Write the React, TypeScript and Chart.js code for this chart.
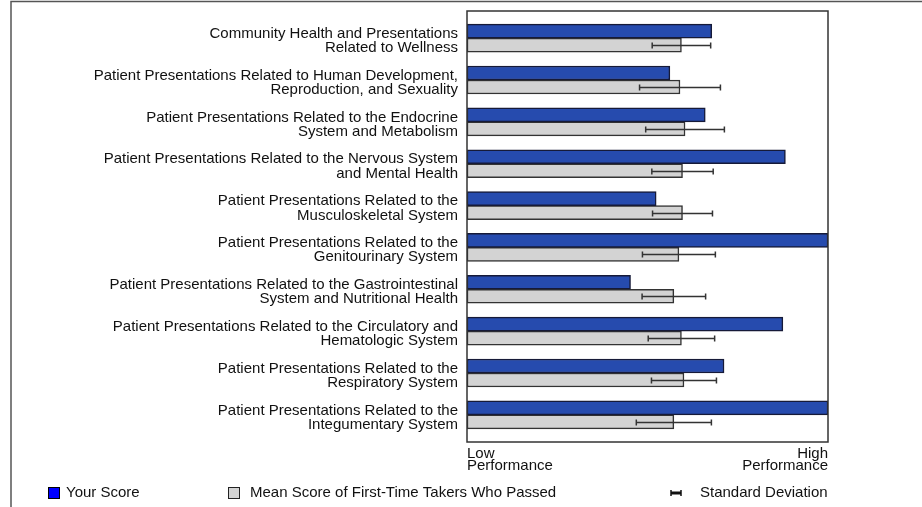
import React, { useEffect, useRef } from 'react';
import { Chart, registerables } from 'chart.js';

Chart.register(...registerables);

const categories: string[][] = [
  ['Community Health and Presentations', 'Related to Wellness'],
  ['Patient Presentations Related to Human Development,', 'Reproduction, and Sexuality'],
  ['Patient Presentations Related to the Endocrine', 'System and Metabolism'],
  ['Patient Presentations Related to the Nervous System', 'and Mental Health'],
  ['Patient Presentations Related to the', 'Musculoskeletal System'],
  ['Patient Presentations Related to the', 'Genitourinary System'],
  ['Patient Presentations Related to the Gastrointestinal', 'System and Nutritional Health'],
  ['Patient Presentations Related to the Circulatory and', 'Hematologic System'],
  ['Patient Presentations Related to the', 'Respiratory System'],
  ['Patient Presentations Related to the', 'Integumentary System'],
];

const yourScore = [67.8, 56.2, 66.0, 88.2, 52.4, 100, 45.3, 87.5, 71.2, 100];
const meanScore = [59.4, 59.0, 60.4, 59.7, 59.7, 58.7, 57.3, 59.4, 60.1, 57.3];
const stdDev = [8.1, 11.2, 10.9, 8.5, 8.3, 10.1, 8.8, 9.2, 9.0, 10.4];

const xTickLabels: string[][] = [
  ['Low', 'Performance'],
  ['High', 'Performance'],
];

const legendLabels = ['Your Score', 'Mean Score of First-Time Takers Who Passed', 'Standard Deviation'];

const FONT = "'Liberation Sans', Arial, Helvetica, sans-serif";
const LABEL_SHIFT = 0.065;

export default function App() {
  const ref = useRef<HTMLCanvasElement>(null);

  useEffect(() => {
    const canvas = ref.current;
    if (!canvas) return;

    const overlay = {
      id: 'overlay',
      afterDatasetsDraw(chart: any) {
        const ctx = chart.ctx;
        const xs = chart.scales.x;
        const meta = chart.getDatasetMeta(1);
        ctx.save();
        ctx.strokeStyle = '#333';
        ctx.lineWidth = 1.5;
        meta.data.forEach((bar: any, i: number) => {
          const y = Math.round(bar.y) + 0.5;
          const x1 = xs.getPixelForValue(meanScore[i] - stdDev[i]);
          const x2 = xs.getPixelForValue(meanScore[i] + stdDev[i]);
          ctx.beginPath();
          ctx.moveTo(x1, y);
          ctx.lineTo(x2, y);
          ctx.moveTo(x1, y - 3);
          ctx.lineTo(x1, y + 3);
          ctx.moveTo(x2, y - 3);
          ctx.lineTo(x2, y + 3);
          ctx.stroke();
        });
        // plot border
        const a = chart.chartArea;
        ctx.strokeStyle = '#333';
        ctx.lineWidth = 1.5;
        ctx.strokeRect(a.left, a.top, a.right - a.left, a.bottom - a.top);
        ctx.restore();
      },
      afterDraw(chart: any) {
        const ctx = chart.ctx;
        ctx.save();
        // outer frame
        ctx.strokeStyle = '#555';
        ctx.lineWidth = 1.5;
        ctx.beginPath();
        ctx.moveTo(11, 507);
        ctx.lineTo(11, 1.5);
        ctx.lineTo(922, 1.5);
        ctx.stroke();

        // legend
        ctx.font = `15px ${FONT}`;
        ctx.textBaseline = 'middle';
        ctx.textAlign = 'left';
        const ly = 493;
        // your score
        ctx.fillStyle = '#0000FF';
        ctx.fillRect(48.5, 487.5, 11, 11);
        ctx.strokeStyle = '#000';
        ctx.lineWidth = 1;
        ctx.strokeRect(48.5, 487.5, 11, 11);
        ctx.fillStyle = '#111';
        ctx.fillText(legendLabels[0], 66, ly);
        // mean
        ctx.fillStyle = '#D3D3D3';
        ctx.fillRect(228.5, 487.5, 11, 11);
        ctx.strokeStyle = '#222';
        ctx.strokeRect(228.5, 487.5, 11, 11);
        ctx.fillStyle = '#111';
        ctx.fillText(legendLabels[1], 250, ly);
        // sd
        ctx.strokeStyle = '#111';
        ctx.lineWidth = 3;
        ctx.beginPath();
        ctx.moveTo(671, 493);
        ctx.lineTo(681, 493);
        ctx.stroke();
        ctx.lineWidth = 1.5;
        ctx.beginPath();
        ctx.moveTo(671, 490);
        ctx.lineTo(671, 496);
        ctx.moveTo(681, 490);
        ctx.lineTo(681, 496);
        ctx.stroke();
        ctx.fillText(legendLabels[2], 700, ly);
        ctx.restore();
      },
    };

    const chart = new Chart(canvas, {
      type: 'bar',
      data: {
        datasets: [
          {
            label: legendLabels[0],
            data: yourScore.map((v, i) => ({ x: v, y: i })),
            backgroundColor: '#264BAE',
            borderColor: '#161a38',
            borderWidth: 1.5,
            borderSkipped: false,
            barThickness: 14,
          },
          {
            label: legendLabels[1],
            data: meanScore.map((v, i) => ({ x: v, y: i })),
            backgroundColor: '#D3D3D3',
            borderColor: '#333',
            borderWidth: 1.5,
            borderSkipped: false,
            barThickness: 14,
          },
        ],
      } as any,
      options: {
        indexAxis: 'y',
        animation: false,
        responsive: false,
        devicePixelRatio: 1,
        layout: { padding: { top: 11, right: 94, left: 0, bottom: 0 } },
        plugins: {
          legend: { display: false },
          tooltip: { enabled: false },
        },
        scales: {
          x: {
            type: 'linear',
            min: 0,
            max: 100,
            offset: false,
            grid: { display: false, drawTicks: false },
            border: { display: false },
            afterBuildTicks: (axis: any) => {
              axis.ticks = [{ value: 0 }, { value: 100 }];
            },
            afterFit: (axis: any) => {
              axis.height = 65;
              axis.paddingLeft = 0;
              axis.paddingRight = 0;
            },
            ticks: {
              align: 'inner',
              padding: 6,
              color: '#111',
              maxRotation: 0,
              autoSkip: false,
              font: { family: FONT, size: 15, lineHeight: 0.8 },
              callback: (v: any) => (Number(v) === 0 ? xTickLabels[0] : xTickLabels[1]),
            },
          },
          y: {
            type: 'linear',
            min: -0.65,
            max: 9.65,
            offset: false,
            reverse: true,
            grid: { display: false, drawTicks: false },
            border: { display: false },
            afterBuildTicks: (axis: any) => {
              axis.ticks = categories.map((_, i) => ({ value: i + LABEL_SHIFT }));
            },
            afterFit: (axis: any) => {
              axis.width = 467;
              axis.paddingTop = 0;
              axis.paddingBottom = 0;
            },
            ticks: {
              padding: 9,
              color: '#111',
              autoSkip: false,
              font: { family: FONT, size: 15, lineHeight: 0.95 },
              callback: (v: any) => categories[Math.round(Number(v))] ?? '',
            },
          },
        },
      } as any,
      plugins: [overlay],
    });

    return () => chart.destroy();
  }, []);

  return (
    <div style={{ position: 'fixed', left: 0, top: 0, width: 922, height: 507, background: '#fff' }}>
      <canvas ref={ref} width={922} height={507} style={{ display: 'block', width: 922, height: 507 }} />
    </div>
  );
}
